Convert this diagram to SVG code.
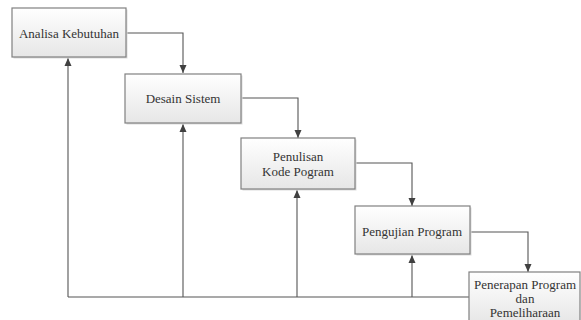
<svg xmlns="http://www.w3.org/2000/svg" width="581" height="320" viewBox="0 0 581 320">
<defs>
<linearGradient id="g" x1="0" y1="0" x2="0" y2="1">
<stop offset="0" stop-color="#ffffff"/>
<stop offset="1" stop-color="#e6e6e6"/>
</linearGradient>
<marker id="a" viewBox="0 0 8 8" refX="8" refY="4" markerWidth="8" markerHeight="8" markerUnits="userSpaceOnUse" orient="auto">
<path d="M0,0.5 L8,4 L0,7.5 z" fill="#404040"/>
</marker>
<style>
.box{fill:url(#g);stroke:#808080;stroke-width:1.2}
.sh{fill:#dcdcdc}
.t{font-family:'Times New Roman','Liberation Serif','DejaVu Serif',serif;font-size:13px;fill:#333;text-anchor:middle;dominant-baseline:central}
.c{fill:none;stroke:#555;stroke-width:1.1}
</style>
</defs>
<rect width="581" height="320" fill="#fff"/>
<g id="connectors">
<path class="c" d="M126,33 H183 V73" marker-end="url(#a)"/>
<path class="c" d="M241,98 H298 V138" marker-end="url(#a)"/>
<path class="c" d="M355,163 H412 V206" marker-end="url(#a)"/>
<path class="c" d="M470,232 H528 V272" marker-end="url(#a)"/>
<path class="c" d="M469,297 H68"/>
<path class="c" d="M68,297 V58" marker-end="url(#a)"/>
<path class="c" d="M183,297 V124" marker-end="url(#a)"/>
<path class="c" d="M297,297 V190" marker-end="url(#a)"/>
<path class="c" d="M412,297 V255" marker-end="url(#a)"/>
</g>
<g id="n1">
<rect class="sh" x="13.5" y="9.5" width="114" height="49"/>
<rect class="box" x="12" y="8" width="114" height="49"/>
<text class="t" x="69" y="33">Analisa Kebutuhan</text>
</g>
<g id="n2">
<rect class="sh" x="126.5" y="75.5" width="116" height="49"/>
<rect class="box" x="125" y="74" width="116" height="49"/>
<text class="t" x="183" y="98">Desain Sistem</text>
</g>
<g id="n3">
<rect class="sh" x="242.5" y="139.5" width="114" height="51"/>
<rect class="box" x="241" y="138" width="114" height="51"/>
<text class="t" x="298" y="156">Penulisan</text>
<text class="t" x="298" y="171">Kode Pogram</text>
</g>
<g id="n4">
<rect class="sh" x="356.5" y="207.5" width="115" height="48"/>
<rect class="box" x="355" y="206" width="115" height="48"/>
<text class="t" x="412" y="231">Pengujian Program</text>
</g>
<g id="n5">
<rect class="box" x="469" y="272" width="111" height="52"/>
<text class="t" x="525" y="284">Penerapan Program</text>
<text class="t" x="525" y="298">dan</text>
<text class="t" x="525" y="312">Pemeliharaan</text>
</g>
</svg>
